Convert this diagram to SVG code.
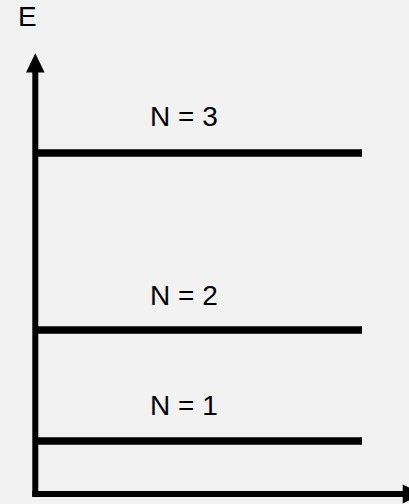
<svg xmlns="http://www.w3.org/2000/svg" width="409" height="504" viewBox="0 0 409 504">
<style>
.lbl{font-family:"Liberation Sans",Arial,sans-serif;font-size:28px;fill:#000}
.lvl{stroke:#000;stroke-width:7.5;fill:none}
.ax{stroke:#000;stroke-width:6;fill:none}
</style>
<rect width="409" height="504" fill="#f2f2f2"/>
<g id="axes">
<path class="ax" d="M35.3,497 V70"/>
<polygon points="35.3,53.3 26,72.5 44.6,72.5" fill="#000"/>
<path class="ax" d="M32.3,494 H405"/>
<polygon points="422,494 402.7,484.5 402.7,503.5" fill="#000"/>
</g>
<g id="label-E"><text class="lbl" x="18" y="26">E</text></g>
<g id="level-3">
<path class="lvl" d="M38,153 H362"/>
<text class="lbl" x="150" y="126">N = 3</text>
</g>
<g id="level-2">
<path class="lvl" d="M38,330 H362"/>
<text class="lbl" x="150" y="304.5">N = 2</text>
</g>
<g id="level-1">
<path class="lvl" d="M38,441 H362"/>
<text class="lbl" x="150" y="415">N = 1</text>
</g>
</svg>
